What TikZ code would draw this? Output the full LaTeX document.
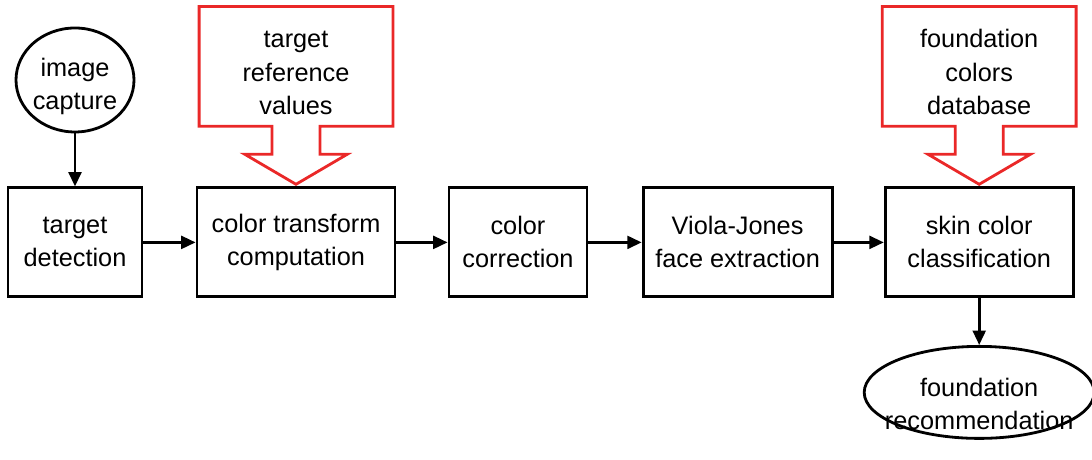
\documentclass[tikz,border=0pt]{standalone}
\usepackage{fontspec}
\setmainfont{Liberation Sans}
\usetikzlibrary{arrows.meta,positioning,shapes.geometric}
\definecolor{calloutred}{RGB}{234,40,40}
% pushes the first line of a node text down a little
\newcommand{\padtop}[1]{\rule{0pt}{#1}}

\begin{document}
\begin{tikzpicture}[>={Triangle[length=3.6mm,width=3.2mm]},line width=2pt,on grid,
    font=\fontsize{18}{23.5}\selectfont]
    \useasboundingbox (0,0) rectangle (27.3,11.5);

    \tikzset{stage/.style={draw,rectangle,minimum height=2.725cm,align=center,inner sep=2pt}}
    \tikzset{terminal/.style={draw,ellipse,align=center,inner sep=-0.4cm}}
    \tikzset{callout/.style={rectangle,minimum width=4.775cm,minimum height=2.925cm,align=center}}
    \tikzset{feed/.style={draw=calloutred,line width=2pt,line join=miter}}

    % processing chain
    \node[stage,minimum width=3.35cm]  (detect)    at (1.875,5.44)          {target\\detection};
    \node[stage,minimum width=4.95cm]  (transform) [right=5.525cm of detect]    {color transform\\computation};
    \node[stage,minimum width=3.45cm]  (correct)   [right=5.55cm of transform]  {color\\correction};
    \node[stage,minimum width=4.725cm] (viola)     [right=5.49cm of correct]    {Viola-Jones\\face extraction};
    \node[stage,minimum width=4.7cm]   (skin)      [right=6.04cm of viola]      {skin color\\classification};

    % start and end
    \node[terminal,minimum width=2.95cm,minimum height=2.6cm] (capture)   [above=4.06cm of detect] {\padtop{22pt}image\\capture};
    \node[terminal,minimum width=5.75cm,minimum height=2.3cm] (recommend) [below=3.75cm of skin]   {\padtop{30pt}foundation\\recommendation};

    % inputs
    \node[callout] (refvals) [above=4.4cm of transform] {\padtop{21pt}target\\reference\\values};
    \node[callout] (colordb) [above=4.4cm of skin]      {\padtop{21pt}foundation\\colors\\database};

    \foreach \c in {refvals,colordb}
      \draw[feed] (\c.north west) -- (\c.north east) -- (\c.south east)
        -- ([xshift=0.6cm]\c.south) -- ([xshift=0.6cm,yshift=-0.7cm]\c.south)
        -- ([xshift=1.28cm,yshift=-0.7cm]\c.south) -- ([yshift=-1.45cm]\c.south)
        -- ([xshift=-1.28cm,yshift=-0.7cm]\c.south) -- ([xshift=-0.6cm,yshift=-0.7cm]\c.south)
        -- ([xshift=-0.6cm]\c.south) -- (\c.south west) -- cycle;

    \draw[->] (capture) -- (detect);
    \draw[->] (detect) -- (transform);
    \draw[->] (transform) -- (correct);
    \draw[->] (correct) -- (viola);
    \draw[->] (viola) -- (skin);
    \draw[->] (skin) -- (recommend);
\end{tikzpicture}
\end{document}
